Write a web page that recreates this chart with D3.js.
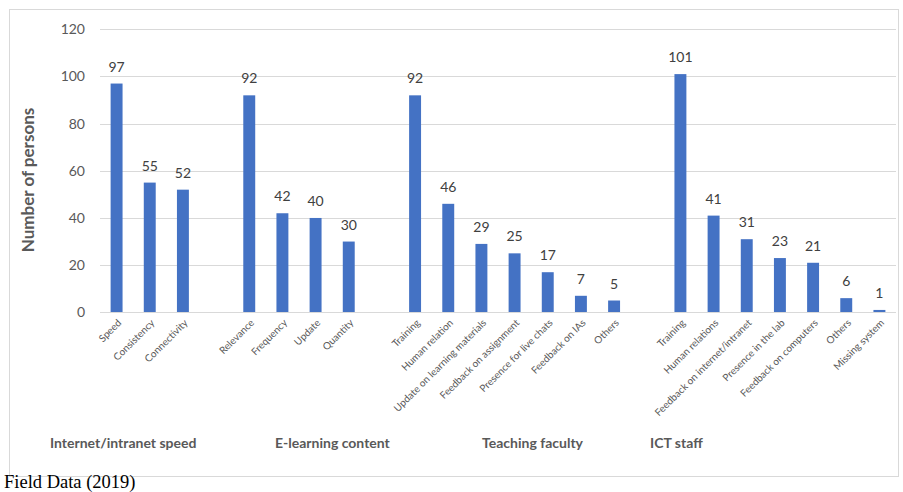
<!DOCTYPE html>
<html>
<head>
<meta charset="utf-8">
<script src="https://cdn.jsdelivr.net/npm/d3@7"></script>
<style>
  body { margin: 0; background: #fff; }
  svg text { font-family: Lato, "Open Sans", sans-serif; }
</style>
</head>
<body>
<div class="chartContainer"></div>
<script>
// one entry per slot on the axis, "" = empty spacer slot
var categories = ["Speed", "Consistency", "Connectivity", "",
    "Relevance", "Frequency", "Update", "Quantity", "",
    "Training", "Human relation", "Update on learning materials", "Feedback on assignment",
    "Presence for live chats", "Feedback on IAs", "Others", "",
    "Training ", "Human relations", "Feedback on internet/intranet", "Presence in the lab",
    "Feedback on computers", "Others ", "Missing system"];
var values = [97, 55, 52, null,
    92, 42, 40, 30, null,
    92, 46, 29, 25, 17, 7, 5, null,
    101, 41, 31, 23, 21, 6, 1];
var groups = ["Internet/intranet speed", "E-learning content", "Teaching faculty", "ICT staff"];
var yTicks = [0, 20, 40, 60, 80, 100, 120];

function chart() {
    var w = 903,
        h = 492;

    var svg = d3.select(".chartContainer")
        .append("svg")
        .attr("width", w)
        .attr("height", h);

    // chart area border
    svg.append("rect")
        .attr("x", 9.5)
        .attr("y", 9.5)
        .attr("width", 889)
        .attr("height", 467)
        .attr("fill", "none")
        .attr("stroke", "#d9d9d9");

    var x = d3.scaleBand()
        .domain(d3.range(categories.length))
        .range([100, 896])
        .paddingInner(0.64)
        .paddingOuter(0.32);

    var y = d3.scaleLinear()
        .domain([0, 120])
        .range([312.3, 29.3]);

    // gridlines
    svg.append("g")
        .selectAll("line")
        .data(yTicks.slice(1))
        .enter().append("line")
        .attr("x1", 100)
        .attr("x2", 896)
        .attr("y1", function (d) { return Math.round(y(d)) + 0.5; })
        .attr("y2", function (d) { return Math.round(y(d)) + 0.5; })
        .attr("stroke", "#d9d9d9");

    // y axis labels
    var yAxis = svg.append("g")
        .attr("transform", "translate(100,0)")
        .call(d3.axisLeft(y).tickValues(yTicks).tickSize(0).tickPadding(15));
    yAxis.select(".domain").remove();
    yAxis.selectAll("text")
        .attr("fill", "#595959")
        .style("font-size", "14px");

    // bars
    var slots = values.map(function (v, i) { return {i: i, v: v, name: categories[i]}; });
    var filled = slots.filter(function (d) { return d.v !== null; });

    svg.append("g")
        .selectAll("rect")
        .data(filled)
        .enter().append("rect")
        .attr("x", function (d) { return x(d.i); })
        .attr("width", x.bandwidth())
        .attr("y", function (d) { return y(d.v); })
        .attr("height", function (d) { return y(0) - y(d.v); })
        .attr("fill", "#4472c4");

    // value labels
    svg.append("g")
        .selectAll("text")
        .data(filled)
        .enter().append("text")
        .attr("x", function (d) { return x(d.i) + x.bandwidth() / 2; })
        .attr("y", function (d) { return y(d.v) - 12; })
        .attr("text-anchor", "middle")
        .attr("fill", "#404040")
        .style("font-size", "14px")
        .text(function (d) { return d.v; });

    // x axis line
    svg.append("line")
        .attr("x1", 100)
        .attr("x2", 896)
        .attr("y1", Math.round(y(0)) + 0.5)
        .attr("y2", Math.round(y(0)) + 0.5)
        .attr("stroke", "#d9d9d9");

    // category labels, rotated
    svg.append("g")
        .selectAll("text")
        .data(filled)
        .enter().append("text")
        .attr("transform", function (d) {
            var cx = x(d.i) + x.bandwidth() / 2 + 3;
            return "translate(" + cx + ",321) rotate(-45)";
        })
        .attr("text-anchor", "end")
        .attr("dy", "0.35em")
        .attr("fill", "#595959")
        .style("font-size", "10px")
        .text(function (d) { return d.name.trim(); });

    // group labels
    var groupX = [50, 275, 482, 650];
    svg.append("g")
        .selectAll("text")
        .data(groups)
        .enter().append("text")
        .attr("x", function (d, i) { return groupX[i]; })
        .attr("y", 448)
        .attr("fill", "#595959")
        .style("font-size", "14px")
        .style("font-weight", "bold")
        .text(function (d) { return d; });

    // y axis title
    svg.append("text")
        .attr("transform", "translate(34,180) rotate(-90)")
        .attr("text-anchor", "middle")
        .attr("fill", "#595959")
        .style("font-size", "17px")
        .style("font-weight", "bold")
        .text("Number of persons");

    // source note
    svg.append("text")
        .attr("x", 4)
        .attr("y", 488)
        .attr("fill", "#000")
        .style("font-family", "'Liberation Serif', 'Times New Roman', serif")
        .style("font-size", "18.5px")
        .text("Field Data (2019)");
}

chart();
</script>
</body>
</html>
